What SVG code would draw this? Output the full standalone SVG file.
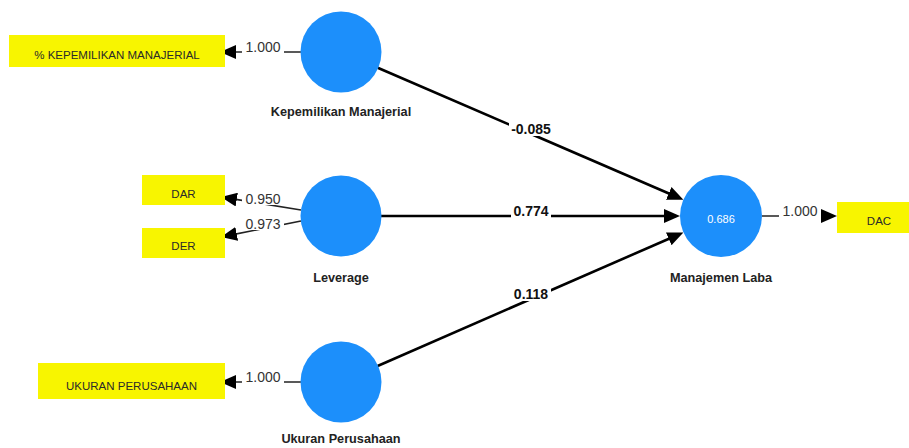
<svg xmlns="http://www.w3.org/2000/svg" width="909" height="448" viewBox="0 0 909 448">
<style>
.lv{fill:#1c8ffb;}
.ind{fill:#f8f500;}
.itxt{font-family:"Liberation Sans",Arial,sans-serif;font-size:11.5px;fill:#2a2a2a;text-anchor:middle;}
.ntxt{font-family:"Liberation Sans",Arial,sans-serif;font-size:12.7px;font-weight:bold;fill:#222;text-anchor:middle;}
.r2{font-family:"Liberation Sans",Arial,sans-serif;font-size:11px;fill:#fff;text-anchor:middle;}
.ld{stroke:#222;stroke-width:1.6;fill:none;}
.pc{stroke:#000;stroke-width:2.6;fill:none;}
.ltxt{font-family:"Liberation Sans",Arial,sans-serif;font-size:14px;fill:#333;text-anchor:middle;}
.ptxt{font-family:"Liberation Sans",Arial,sans-serif;font-size:14px;font-weight:bold;fill:#111;text-anchor:middle;}
.bg{fill:#fff;}
</style>
<defs>
<marker id="ah" markerUnits="userSpaceOnUse" markerWidth="16" markerHeight="14" refX="4" refY="7" orient="auto" viewBox="0 0 16 14">
<path d="M0,0 L16,7 L0,14 z" fill="#000"/>
</marker>
<marker id="ahs" markerUnits="userSpaceOnUse" markerWidth="16" markerHeight="14" refX="4" refY="7" orient="auto" viewBox="0 0 16 14">
<path d="M0,0 L16,7 L0,14 z" fill="#000"/>
</marker>
</defs>

<g id="connectors">
<line class="pc" x1="377.7" y1="67.8" x2="672.4" y2="195" marker-end="url(#ah)"/>
<rect class="bg" x="509" y="122" width="44" height="14"/>
<text class="ptxt" x="531" y="134">-0.085</text>

<line class="pc" x1="381" y1="216" x2="668" y2="216" marker-end="url(#ah)"/>
<rect class="bg" x="511" y="204" width="40" height="14"/>
<text class="ptxt" x="531" y="216">0.774</text>

<line class="pc" x1="377.6" y1="366" x2="672.4" y2="237.2" marker-end="url(#ah)"/>
<rect class="bg" x="511" y="287" width="40" height="14"/>
<text class="ptxt" x="531" y="299">0.118</text>

<line class="ld" x1="301" y1="52" x2="232" y2="52" marker-end="url(#ahs)"/>
<rect class="bg" x="242" y="40" width="42" height="13.5"/>
<text class="ltxt" x="263" y="52">1.000</text>

<line class="ld" x1="301" y1="210" x2="232.8" y2="198.9" marker-end="url(#ahs)"/>
<rect class="bg" x="242" y="191" width="42" height="14"/>
<text class="ltxt" x="263" y="204">0.950</text>

<line class="ld" x1="301" y1="221" x2="232.8" y2="234.6" marker-end="url(#ahs)"/>
<rect class="bg" x="242" y="216" width="42" height="14"/>
<text class="ltxt" x="263" y="229">0.973</text>

<line class="ld" x1="301" y1="382" x2="232" y2="382" marker-end="url(#ahs)"/>
<rect class="bg" x="242" y="370" width="42" height="13.5"/>
<text class="ltxt" x="263" y="382">1.000</text>

<line class="ld" x1="762" y1="216" x2="825" y2="216" marker-end="url(#ahs)"/>
<rect class="bg" x="779" y="204" width="42" height="13.5"/>
<text class="ltxt" x="800" y="216">1.000</text>
</g>

<g id="node-km">
<circle class="lv" cx="341" cy="52" r="40.5"/>
<text class="ntxt" x="341" y="116">Kepemilikan Manajerial</text>
</g>
<g id="node-lev">
<circle class="lv" cx="341" cy="216" r="40.5"/>
<text class="ntxt" x="341" y="282">Leverage</text>
</g>
<g id="node-up">
<circle class="lv" cx="341" cy="382" r="40.5"/>
<text class="ntxt" x="341" y="443">Ukuran Perusahaan</text>
</g>
<g id="node-ml">
<circle class="lv" cx="721" cy="216" r="41"/>
<text class="r2" x="721" y="223">0.686</text>
<text class="ntxt" x="721" y="282">Manajemen Laba</text>
</g>

<g id="ind-km">
<rect class="ind" x="9" y="35" width="216" height="32"/>
<text class="itxt" x="117" y="59">% KEPEMILIKAN MANAJERIAL</text>
</g>
<g id="ind-dar">
<rect class="ind" x="142" y="175" width="83" height="30"/>
<text class="itxt" x="183.5" y="198">DAR</text>
</g>
<g id="ind-der">
<rect class="ind" x="142" y="228" width="83" height="30"/>
<text class="itxt" x="183.5" y="250">DER</text>
</g>
<g id="ind-up">
<rect class="ind" x="38" y="363" width="187" height="36"/>
<text class="itxt" x="131.5" y="390">UKURAN PERUSAHAAN</text>
</g>
<g id="ind-dac">
<rect class="ind" x="837" y="202" width="80" height="31"/>
<text class="itxt" x="879" y="225">DAC</text>
</g>
</svg>
